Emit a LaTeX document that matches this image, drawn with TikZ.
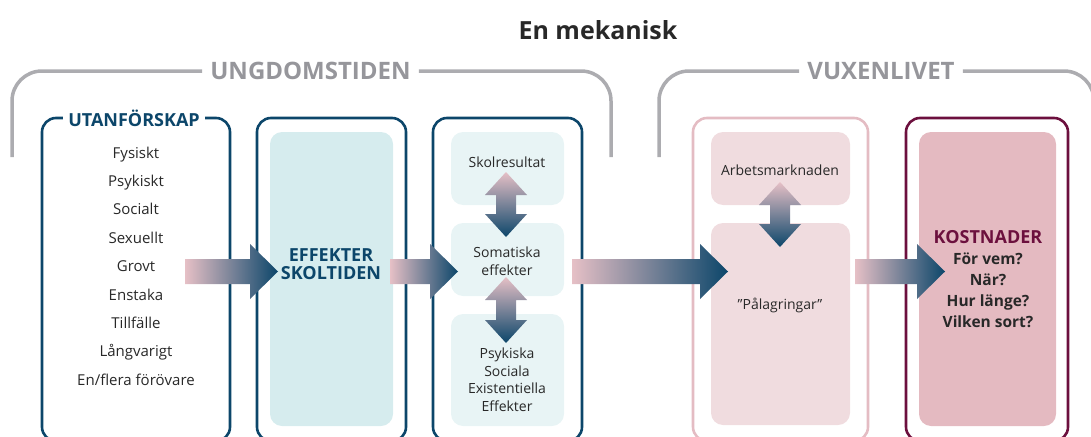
\documentclass[tikz,border=0pt]{standalone}
\usepackage{fontspec}
\setmainfont{Open Sans}
\definecolor{deepblue}{RGB}{12,70,106}
\definecolor{wine}{RGB}{108,16,62}
\definecolor{roseline}{RGB}{228,188,195}
\definecolor{rosepale}{RGB}{240,220,223}
\definecolor{rosedeep}{RGB}{228,186,193}
\definecolor{tealfill}{RGB}{214,236,238}
\definecolor{tealpale}{RGB}{232,244,245}
\definecolor{bracketgray}{RGB}{172,172,176}
\definecolor{labelgray}{RGB}{150,150,155}
\definecolor{inkgray}{RGB}{40,40,40}
\definecolor{arrowpink}{RGB}{230,192,198}
\usetikzlibrary{calc}

\begin{document}
\begin{tikzpicture}[x=1pt, y=-1pt,
          every node/.style={align=center, inner sep=0pt},
          bracketline/.style={draw=bracketgray, line width=3.5pt, rounded corners=30pt},
          bracketlabel/.style={inner xsep=8pt, text=labelgray,
                font=\fontsize{24}{28}\selectfont\bfseries},
          outerbox/.style={rounded corners=14pt, line width=2.6pt,
                minimum width=#1, minimum height=323},
          innerbox/.style={rounded corners=12pt, minimum width=#1},
          smalltxt/.style={text=inkgray, font=\fontsize{14}{17.5}\selectfont}]
          \useasboundingbox (0,0) rectangle (1091,436);
          \clip (0,0) rectangle (1091,436);
          % Title and the two brackets
          \node[font=\fontsize{25}{30}\selectfont\bfseries, text=inkgray] (title) at (598,30) {En mekanisk};
          \node[bracketlabel] (ungdom) at (310.5,71) {UNGDOMSTIDEN};
          \node[bracketlabel] (vuxen) at (881,71) {VUXENLIVET};
          \draw[bracketline] (ungdom.west) -| (12,157);
          \draw[bracketline] (ungdom.east) -| (611,157);
          \draw[bracketline] (vuxen.west) -| (659,157);
          \draw[bracketline] (vuxen.east) -| (1094,157);
          % Outer boxes
          \node[outerbox=188, draw=deepblue] (utan) at (136,279.5) {};
          \node[outerbox=149, draw=deepblue] (skola) at (331.5,279.5) {};
          \node[outerbox=149, draw=deepblue] (effekt) at (507.5,279.5) {};
          \node[outerbox=175, draw=roseline] (arbete) at (780.5,279.5) {};
          \node[outerbox=162, draw=wine] (kostn) at (987,279.5) {};
          % Inner boxes
          \node[innerbox=123, minimum height=294, fill=tealfill] (skolin) at (331.5,279) {};
          \node[innerbox=113, minimum height=73, fill=tealpale] (skolres) at (507.5,168.5) {};
          \node[innerbox=113, minimum height=73, fill=tealpale] (soma) at (507.5,259.5) {};
          \node[innerbox=113, minimum height=112, fill=tealpale] (psyk) at (507.5,370) {};
          \node[innerbox=139, minimum height=73, fill=rosepale] (arbmark) at (780.5,168.5) {};
          \node[innerbox=139, minimum height=202, fill=rosepale] (palag) at (780.5,324) {};
          \node[innerbox=137, minimum height=294, fill=rosedeep] (kostin) at (987.5,279) {};
          % Shaded block arrows
          \foreach \xa/\xb in {185/278, 390/458, 572/728, 855/945}
            \shade[left color=arrowpink, right color=deepblue]
              (\xa,259) -- (\xb-28,259) -- (\xb-28,244) -- (\xb,271.5)
              -- (\xb-28,299) -- (\xb-28,284) -- (\xa,284) -- cycle;
          \foreach \cx/\ta/\tb in {506/172/237, 506/277/343, 780/182/247}
            \shade[top color=arrowpink, bottom color=deepblue]
              (\cx,\ta) -- (\cx+21,\ta+23) -- (\cx+10,\ta+23) -- (\cx+10,\tb-23)
              -- (\cx+21,\tb-23) -- (\cx,\tb) -- (\cx-21,\tb-23) -- (\cx-10,\tb-23)
              -- (\cx-10,\ta+23) -- (\cx-21,\ta+23) -- cycle;
          % Texts
          \node[fill=white, inner xsep=5pt, inner ysep=2pt, text=deepblue,
                font=\fontsize{18}{20}\selectfont\bfseries] (utantitle) at (134,118) {UTANFÖRSKAP};
          \foreach \lbl [count=\i] in {Fysiskt, Psykiskt, Socialt, Sexuellt, Grovt,
                Enstaka, Tillfälle, Långvarigt, En/flera förövare}
            \node[text=inkgray, font=\fontsize{15}{18}\selectfont,
                  text height=11pt, text depth=3pt] (u\i) at (136,125.6+28.4*\i) {\lbl};
          \node[text=deepblue, font=\fontsize{18}{18}\selectfont\bfseries] (skoltxt) at (331,264)
            {EFFEKTER\\SKOLTIDEN};
          \node[smalltxt] (skolrestxt) at (507,162) {Skolresultat};
          \node[smalltxt] (somatxt) at (507,261) {Somatiska\\effekter};
          \node[smalltxt] (psyktxt) at (507,379.5) {Psykiska\\Sociala\\Existentiella\\Effekter};
          \node[smalltxt] (arbtxt) at (780,170) {Arbetsmarknaden};
          \node[smalltxt] (palagtxt) at (780,305) {”Pålagringar”};
          \node[text=inkgray, font=\fontsize{15.5}{21}\selectfont\bfseries] (kosttxt) at (988,279)
            {\textcolor{wine}{\fontsize{18}{21}\selectfont KOSTNADER}\\För vem?\\När?\\Hur länge?\\Vilken sort?};
        \end{tikzpicture}
\end{document}
